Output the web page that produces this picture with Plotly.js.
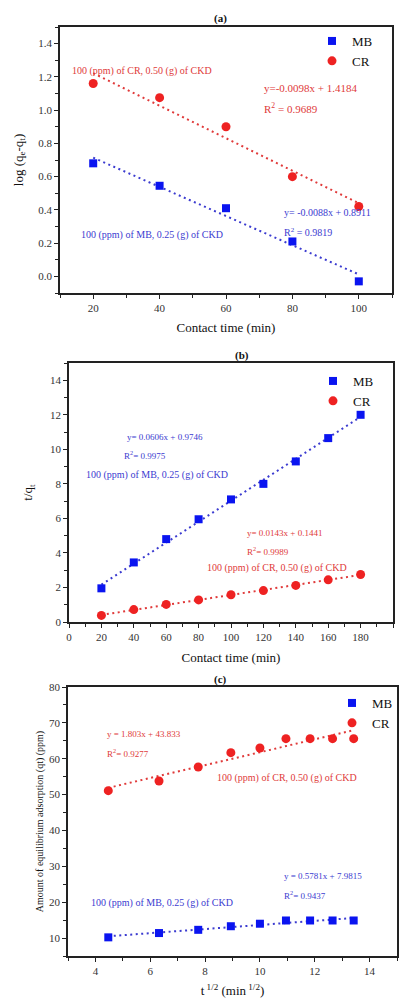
<!DOCTYPE html>
<html>
<head>
<meta charset="utf-8">
<script src="https://cdn.plot.ly/plotly-3.0.1.min.js"></script>
<style>html,body{margin:0;padding:0;background:#fff;}#chart{width:399px;height:999px;}</style>
</head>
<body>
<div id="chart"></div>
<script>
// ---- Data ----
const timeA = [20, 40, 60, 80, 100];
const logMB = [0.68, 0.545, 0.41, 0.21, -0.03];
const logCR = [1.16, 1.075, 0.90, 0.60, 0.42];

const timeB = [20, 40, 60, 80, 100, 120, 140, 160, 180];
const tqMB = [1.95, 3.45, 4.80, 5.95, 7.10, 8.00, 9.30, 10.65, 12.00];
const tqCR = [0.38, 0.72, 1.02, 1.28, 1.58, 1.82, 2.12, 2.44, 2.75];

const sqrtT = [4.47, 6.32, 7.75, 8.94, 10.0, 10.95, 11.83, 12.65, 13.42];
const qtMB = [10.2, 11.4, 12.3, 13.3, 14.0, 14.9, 14.9, 14.9, 14.9];
const qtCR = [51.1, 53.8, 57.7, 61.7, 63.0, 65.6, 65.6, 65.6, 65.6];

const seriesNames = ['MB', 'CR'];
const panelLabels = ['(a)', '(b)', '(c)'];
const eqA = ['y= -0.0088x + 0.8911', 'R<sup>2</sup> = 0.9819', 'y=-0.0098x + 1.4184', 'R<sup>2</sup> = 0.9689'];
const eqB = ['y= 0.0606x + 0.9746', 'R<sup>2</sup>= 0.9975', 'y= 0.0143x + 0.1441', 'R<sup>2</sup>= 0.9989'];
const eqC = ['y = 0.5781x + 7.9815', 'R<sup>2</sup>= 0.9437', 'y = 1.803x + 43.833', 'R<sup>2</sup>= 0.9277'];
const condMB = '100 (ppm) of MB, 0.25 (g) of CKD';
const condCR = '100 (ppm) of CR, 0.50 (g) of CKD';

// ---- helpers ----
function fit(x, y) {
  const n = x.length;
  const mx = x.reduce((a, b) => a + b, 0) / n;
  const my = y.reduce((a, b) => a + b, 0) / n;
  let sxy = 0, sxx = 0;
  for (let i = 0; i < n; i++) { sxy += (x[i] - mx) * (y[i] - my); sxx += (x[i] - mx) ** 2; }
  const m = sxy / sxx, b = my - m * mx;
  const x0 = Math.min(...x), x1 = Math.max(...x);
  return { x: [x0, x1], y: [m * x0 + b, m * x1 + b] };
}
const W = 399, H = 999;
const px = v => v / W;
const py = v => 1 - v / H;

const BLUE = '#0a14f0', RED = '#ee2222';
const BLUE_T = '#3b3bd0', RED_T = '#e03a3a';
const FONT = "'Liberation Serif', 'Times New Roman', serif";

function scat(x, y, name, xa, ya, leg, isMB) {
  return {
    x: x, y: y, name: name, type: 'scatter', mode: 'markers',
    xaxis: xa, yaxis: ya, legend: leg,
    marker: { symbol: isMB ? 'square' : 'circle', size: isMB ? 8 : 9, color: isMB ? BLUE : RED }
  };
}
function trend(x, y, xa, ya, isMB) {
  const f = fit(x, y);
  return {
    x: f.x, y: f.y, type: 'scatter', mode: 'lines', xaxis: xa, yaxis: ya, showlegend: false, hoverinfo: 'skip',
    line: { color: isMB ? BLUE_T : RED_T, dash: '2px,3.5px', width: 2 }
  };
}

const data = [
  trend(timeA, logMB, 'x', 'y', true), trend(timeA, logCR, 'x', 'y', false),
  scat(timeA, logMB, seriesNames[0], 'x', 'y', 'legend', true),
  scat(timeA, logCR, seriesNames[1], 'x', 'y', 'legend', false),
  trend(timeB, tqMB, 'x2', 'y2', true), trend(timeB, tqCR, 'x2', 'y2', false),
  scat(timeB, tqMB, seriesNames[0], 'x2', 'y2', 'legend2', true),
  scat(timeB, tqCR, seriesNames[1], 'x2', 'y2', 'legend2', false),
  trend(sqrtT, qtMB, 'x3', 'y3', true), trend(sqrtT, qtCR, 'x3', 'y3', false),
  scat(sqrtT, qtMB, seriesNames[0], 'x3', 'y3', 'legend3', true),
  scat(sqrtT, qtCR, seriesNames[1], 'x3', 'y3', 'legend3', false)
];

const MINOR = { ticks: 'outside', ticklen: 3, tickwidth: 1.2, tickcolor: '#222', showgrid: false };
function axis(extra, minorDtick, titleText, standoff, titleSize) {
  const a = Object.assign({
    showline: true, mirror: true, linecolor: '#222', linewidth: 1.8,
    ticks: 'outside', ticklen: 4, tickwidth: 1.4, tickcolor: '#222',
    showgrid: false, zeroline: false,
    tickfont: { family: FONT, size: 11, color: '#333' },
    title: { text: titleText, standoff: standoff, font: { family: FONT, size: titleSize || 13, color: '#111' } }
  }, extra);
  if (minorDtick) a.minor = Object.assign({ dtick: minorDtick }, MINOR);
  return a;
}
function legendAt(x, y) {
  return { x: x, y: y, xanchor: 'left', yanchor: 'top', bgcolor: 'rgba(0,0,0,0)',
    font: { family: FONT, size: 13, color: '#111' }, tracegroupgap: 0, itemwidth: 30 };
}
function ann(text, x, y, color, size, xanchor, bold) {
  return { text: bold ? '<b>' + text + '</b>' : text, x: px(x), y: py(y), xref: 'paper', yref: 'paper',
    xanchor: xanchor || 'left', yanchor: 'middle', showarrow: false,
    font: { family: FONT, size: size, color: color } };
}

const layout = {
  width: W, height: H, margin: { l: 0, r: 0, t: 0, b: 0 },
  paper_bgcolor: '#fff', plot_bgcolor: '#fff', showlegend: true,
  xaxis: axis({ domain: [px(60), px(392)], range: [10, 110], dtick: 20, tick0: 0, anchor: 'y' }, 10, 'Contact time (min)', 10),
  yaxis: axis({ domain: [py(293), py(27)], range: [-0.1, 1.5], dtick: 0.2, tickformat: '.1f', anchor: 'x' }, 0.1, 'log (q<sub>e</sub>-q<sub>t</sub>)', 12),
  xaxis2: axis({ domain: [px(69), px(393)], range: [0, 200], dtick: 20, anchor: 'y2' }, 10, 'Contact time (min)', 11),
  yaxis2: axis({ domain: [py(622), py(363)], range: [0, 15], dtick: 2, anchor: 'x2' }, 1, 't/q<sub>t</sub>', 14),
  xaxis3: axis({ domain: [px(68), px(397)], range: [3, 15], dtick: 2, tick0: 0, anchor: 'y3' }, 1, 't<sup> 1/2</sup> (min<sup> 1/2</sup>)', 10),
  yaxis3: axis({ domain: [py(956), py(687)], range: [5, 80], dtick: 10, tick0: 0, anchor: 'x3' }, 5, 'Amount of equilibrium adsorption (qt) (ppm)', 3, 10),
  legend: legendAt(px(312), py(26)),
  legend2: legendAt(px(313), py(366)),
  legend3: legendAt(px(332), py(688)),
  annotations: [
    ann(panelLabels[0], 220, 18, '#111', 11, 'center', true),
    ann(condCR, 142, 71, RED_T, 10, 'center'),
    ann(eqA[2], 262, 88, RED_T, 11),
    ann(eqA[3], 262, 108, RED_T, 11),
    ann(eqA[0], 282, 213, BLUE_T, 10),
    ann(eqA[1], 282, 232, BLUE_T, 10),
    ann(condMB, 152, 235, BLUE_T, 10, 'center'),

    ann(panelLabels[1], 242, 355, '#111', 11, 'center', true),
    ann(eqB[0], 125, 437, BLUE_T, 9),
    ann(eqB[1], 122, 455, BLUE_T, 9),
    ann(condMB, 157, 475, BLUE_T, 10, 'center'),
    ann(eqB[2], 245, 533, RED_T, 9),
    ann(eqB[3], 245, 551, RED_T, 9),
    ann(condCR, 277, 568, RED_T, 10, 'center'),

    ann(panelLabels[2], 220, 679, '#111', 11, 'center', true),
    ann(eqC[2], 105, 734, RED_T, 9),
    ann(eqC[3], 105, 753, RED_T, 9),
    ann(condCR, 287, 778, RED_T, 10, 'center'),
    ann(eqC[0], 282, 876, BLUE_T, 9),
    ann(eqC[1], 282, 895, BLUE_T, 9),
    ann(condMB, 162, 903, BLUE_T, 10, 'center')
  ]
};

Plotly.newPlot('chart', data, layout, { displayModeBar: false });
</script>
</body>
</html>
